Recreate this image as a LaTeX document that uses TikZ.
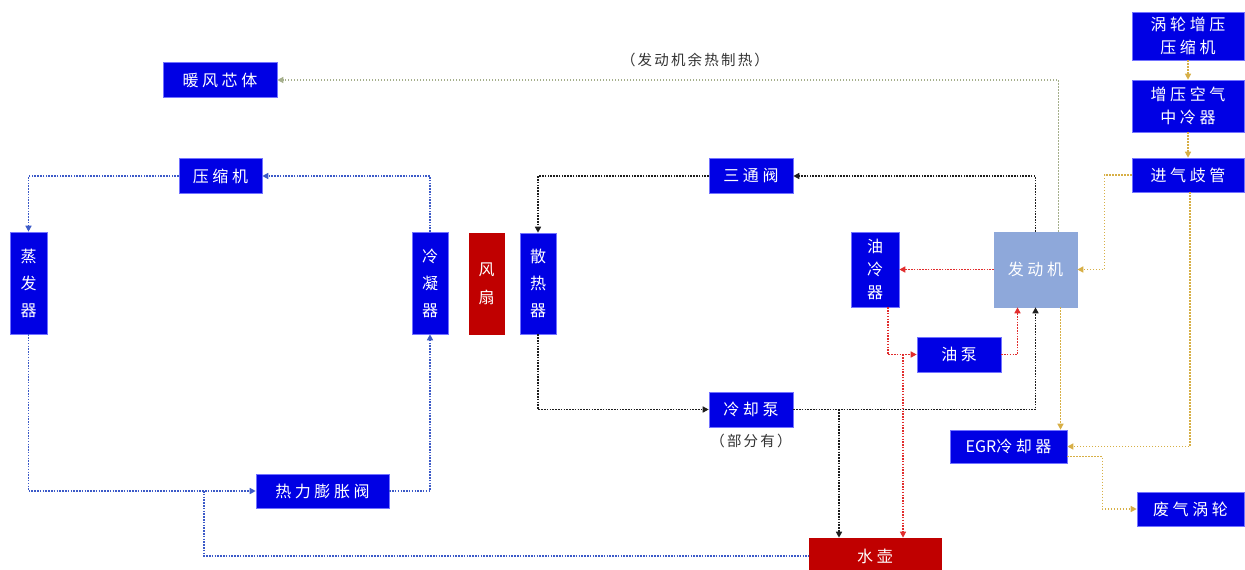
\documentclass[tikz,border=0pt]{standalone}
\usepackage{fontspec}
\newfontfamily\cjk[LetterSpace=22]{Noto Sans CJK SC}
\newfontfamily\cjkv{Noto Sans CJK SC}
\newfontfamily\cjklbl[LetterSpace=15]{Noto Sans CJK SC}
\usetikzlibrary{arrows.meta}
\definecolor{boxblue}{RGB}{0,0,228}
\definecolor{boxred}{RGB}{192,0,0}
\definecolor{engblue}{RGB}{142,168,218}
\definecolor{lblue}{RGB}{60,90,200}
\definecolor{lblack}{RGB}{30,30,30}
\definecolor{lred}{RGB}{225,45,45}
\definecolor{lair}{RGB}{215,175,70}
\definecolor{lheat}{RGB}{165,175,140}
\definecolor{lbltxt}{RGB}{50,50,50}
\begin{document}
\begin{tikzpicture}[x=1pt,y=-1pt,
  bbox/.style={draw=blue!55!white, line width=0.6pt, fill=boxblue, text=white, inner sep=0pt, align=center, font=\cjk\fontsize{16}{23}\selectfont},
  vbox/.style={bbox, font=\cjkv\fontsize{16}{27}\selectfont},
  rbox/.style={bbox, draw=boxred, fill=boxred},
  ebox/.style={bbox, draw=engblue, fill=engblue},
  lbl/.style={text=lbltxt, font=\cjklbl\fontsize{14.5}{16}\selectfont, inner sep=0pt},
  tip/.style={-{Triangle[length=6pt,width=6pt]}},
  cblue/.style={draw=lblue, line width=1.6pt, dash pattern=on 1.5pt off 1.3pt, tip},
  cblack/.style={draw=lblack, line width=1.8pt, dash pattern=on 1.6pt off 1.2pt, tip},
  cred/.style={draw=lred, line width=1.7pt, dash pattern=on 1.5pt off 1.3pt, tip},
  cair/.style={draw=lair, line width=1.3pt, dash pattern=on 1.3pt off 1.7pt, tip},
  cheat/.style={draw=lheat, line width=1.3pt, dash pattern=on 1.3pt off 1.7pt, tip},
]
\useasboundingbox (0,0) rectangle (1245,570);
\clip (0,0) rectangle (1245,570);

% nodes
\node[bbox, minimum width=114, minimum height=35] (heater) at (220,80) {暖风芯体};
\node[lbl] (lblheat) at (695,60) {（发动机余热制热）};
\node[bbox, minimum width=83, minimum height=35] (comp) at (220.5,176) {压缩机};
\node[vbox, minimum width=37, minimum height=102] (evap) at (28.5,283) {蒸\\发\\器};
\node[vbox, minimum width=36, minimum height=102] (cond) at (430,283) {冷\\凝\\器};
\node[vbox, rbox, font=\cjkv\fontsize{16}{28}\selectfont, minimum width=35, minimum height=101] (fan) at (486.5,283.5) {风\\扇};
\node[vbox, minimum width=36, minimum height=101] (rad) at (538,283.5) {散\\热\\器};
\node[bbox, minimum width=84, minimum height=35] (tway) at (751,176) {三通阀};
\node[bbox, minimum width=84, minimum height=35] (cpump) at (751,409.5) {冷却泵};
\node[lbl] (lblpart) at (751,441) {（部分有）};
\node[rbox, minimum width=132, minimum height=36] (tank) at (875,556) {水壶};
\node[bbox, minimum width=133, minimum height=34] (tev) at (322.5,491) {热力膨胀阀};
\node[vbox, font=\cjkv\fontsize{16}{23}\selectfont, minimum width=48, minimum height=75] (ocool) at (875,269.5) {油\\冷\\器};
\node[ebox, minimum width=83, minimum height=75] (eng) at (1035.5,269.5) {发动机};
\node[bbox, minimum width=84, minimum height=35] (opump) at (959,354.5) {油泵};
\node[bbox, minimum width=112, minimum height=48] (turbo) at (1188,36) {涡轮增压\\压缩机};
\node[bbox, minimum width=112, minimum height=52] (cac) at (1188,106) {增压空气\\中冷器};
\node[bbox, minimum width=112, minimum height=34] (im) at (1188,175) {进气歧管};
\node[bbox, minimum width=117, minimum height=33] (egr) at (1008.5,446.5) {{\cjkv EGR}冷却器};
\node[bbox, minimum width=107, minimum height=34] (wt) at (1190.5,509) {废气涡轮};

% junctions
\coordinate (j1) at (204,491);
\coordinate (j2) at (839,409.5);
\coordinate (j3) at (903,354.5);

% refrigerant loop (blue)
\draw[cblue] (cond.north) |- (comp.east);
\draw[cblue] (comp.west) -| (evap.north);
\draw[cblue] (evap.south) |- (tev.west);
\draw[cblue] (tev.east) -| (cond.south);
\draw[cblue, -] (j1) |- (tank.west);

% coolant loop (black)
\draw[cblack] (eng.north) |- (tway.east);
\draw[cblack] (tway.west) -| (rad.north);
\draw[cblack] (rad.south) |- (cpump.west);
\draw[cblack] (cpump.east) -| (eng.south);
\draw[cblack] (j2) -- (j2 |- tank.north);

% oil loop (red)
\draw[cred] (eng.west) -- (ocool.east);
\draw[cred] ([xshift=13]ocool.south) |- (opump.west);
\draw[cred] (opump.east) -| ([xshift=-18]eng.south);
\draw[cred, line width=1.2pt] (j3) -- (j3 |- tank.north);

% air path (orange)
\draw[cair] (turbo.south) -- (cac.north);
\draw[cair] (cac.south) -- (im.north);
\draw[cair] (im.west) -- ++(-27,0) |- (eng.east);
\draw[cair] ([xshift=2]im.south) |- (egr.east);
\draw[cair] ([xshift=25]eng.south) -- ([xshift=25]eng.south |- egr.north);
\draw[cair] ([yshift=-10]egr.east) -- ++(35,0) |- (wt.west);

% heating
\draw[cheat] ([xshift=23]eng.north) |- (heater.east);
\end{tikzpicture}
\end{document}
